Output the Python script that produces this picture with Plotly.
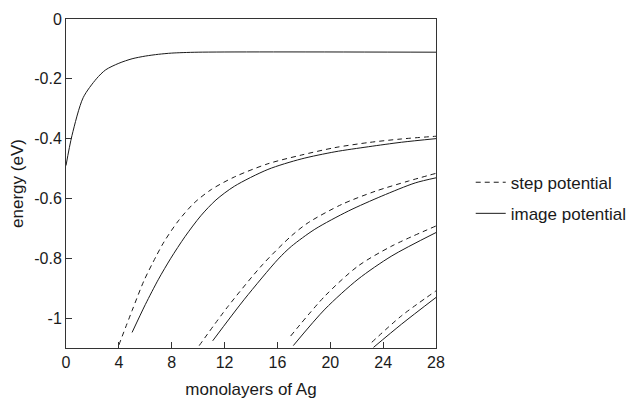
import plotly.graph_objects as go

# top level (image potential; step coincides)
top_x = [0, 0.45, 1.3, 2.3, 3, 4, 5, 6, 7, 8, 10, 28]
top_y = [-0.49, -0.39, -0.263, -0.20, -0.17, -0.148, -0.133, -0.124, -0.118, -0.114, -0.111, -0.111]

# pair 1
step1_x = [4.0, 5.0, 5.9, 6.8, 7.42, 8.5, 9.7, 11.0, 12.75, 15.28, 17.8, 20.35, 22.9, 25.4, 28]
step1_y = [-1.09, -0.975, -0.875, -0.795, -0.745, -0.675, -0.615, -0.57, -0.528, -0.484, -0.455, -0.43, -0.413, -0.401, -0.392]
img1_x = [5.0, 6.0, 7.0, 7.93, 9.0, 10.2, 11.35, 12.75, 15.28, 17.8, 20.35, 22.9, 25.4, 28]
img1_y = [-1.048, -0.955, -0.87, -0.80, -0.728, -0.658, -0.605, -0.559, -0.503, -0.468, -0.444, -0.427, -0.412, -0.40]

# pair 2
step2_x = [10.08, 12.24, 14.9, 17.06, 18.33, 20.86, 23.4, 25.9, 28]
step2_y = [-1.092, -0.962, -0.82, -0.725, -0.681, -0.62, -0.576, -0.542, -0.516]
img2_x = [11.1, 13.5, 16.05, 17.06, 18.83, 21.37, 23.9, 26.43, 28]
img2_y = [-1.076, -0.937, -0.803, -0.76, -0.703, -0.642, -0.592, -0.548, -0.531]

# pair 3
step3_x = [17.0, 19.6, 22.1, 24.66, 28]
step3_y = [-1.06, -0.926, -0.826, -0.759, -0.692]
img3_x = [17.2, 19.6, 22.1, 24.66, 28]
img3_y = [-1.092, -0.97, -0.87, -0.792, -0.714]

# pair 4
step4_x = [23.14, 25.4, 28]
step4_y = [-1.081, -0.992, -0.909]
img4_x = [23.27, 25.4, 28]
img4_y = [-1.098, -1.02, -0.931]

x_ticks = [0, 4, 8, 12, 16, 20, 24, 28]
y_ticks = [0, -0.2, -0.4, -0.6, -0.8, -1]
y_tick_text = ["0", "-0.2", "-0.4", "-0.6", "-0.8", "-1"]

FONT = "Liberation Sans, Arial, sans-serif"
INK = "#1a1a1a"
DASH = "5px,4px"

fig = go.Figure()

steps = [(step1_x, step1_y), (step2_x, step2_y), (step3_x, step3_y), (step4_x, step4_y)]
imgs = [(top_x, top_y), (img1_x, img1_y), (img2_x, img2_y), (img3_x, img3_y), (img4_x, img4_y)]

for i, (xs, ys) in enumerate(steps):
    fig.add_trace(go.Scatter(
        x=xs, y=ys, mode="lines", name="step potential",
        line=dict(color=INK, width=1, dash=DASH, shape="spline", smoothing=0.8),
        legendgroup="step", showlegend=(i == 0), hoverinfo="skip"))

for i, (xs, ys) in enumerate(imgs):
    fig.add_trace(go.Scatter(
        x=xs, y=ys, mode="lines", name="image potential",
        line=dict(color=INK, width=1, shape="spline", smoothing=0.8),
        legendgroup="image", showlegend=(i == 0), hoverinfo="skip"))

axis_common = dict(
    showgrid=False, zeroline=False, showline=True, linecolor="#333", linewidth=1,
    mirror=True, ticks="inside", ticklen=6, tickwidth=1, tickcolor="#333",
    tickfont=dict(family=FONT, size=16, color=INK), automargin=False,
)

fig.update_xaxes(range=[0, 28], tickvals=x_ticks, ticktext=[str(v) for v in x_ticks],
                 title=dict(text="monolayers of Ag", font=dict(family=FONT, size=17, color=INK), standoff=12),
                 **axis_common)
fig.update_yaxes(range=[-1.1, 0], tickvals=y_ticks, ticktext=y_tick_text,
                 title=dict(text="energy (eV)", font=dict(family=FONT, size=17, color=INK), standoff=6),
                 **axis_common)

fig.update_layout(
    width=631, height=402,
    margin=dict(l=66, r=195, t=19, b=54, autoexpand=False),
    plot_bgcolor="white", paper_bgcolor="white",
    font=dict(family=FONT, size=17, color=INK),
    legend=dict(xref="container", yref="container", x=0.746, y=0.507,
                xanchor="left", yanchor="middle",
                font=dict(family=FONT, size=17, color=INK),
                tracegroupgap=6, traceorder="grouped",
                bgcolor="rgba(0,0,0,0)"),
)

fig.write_html("out.html",
               config={"displayModeBar": False},
               post_script="document.body.style.margin='0';document.body.style.overflow='hidden';")
